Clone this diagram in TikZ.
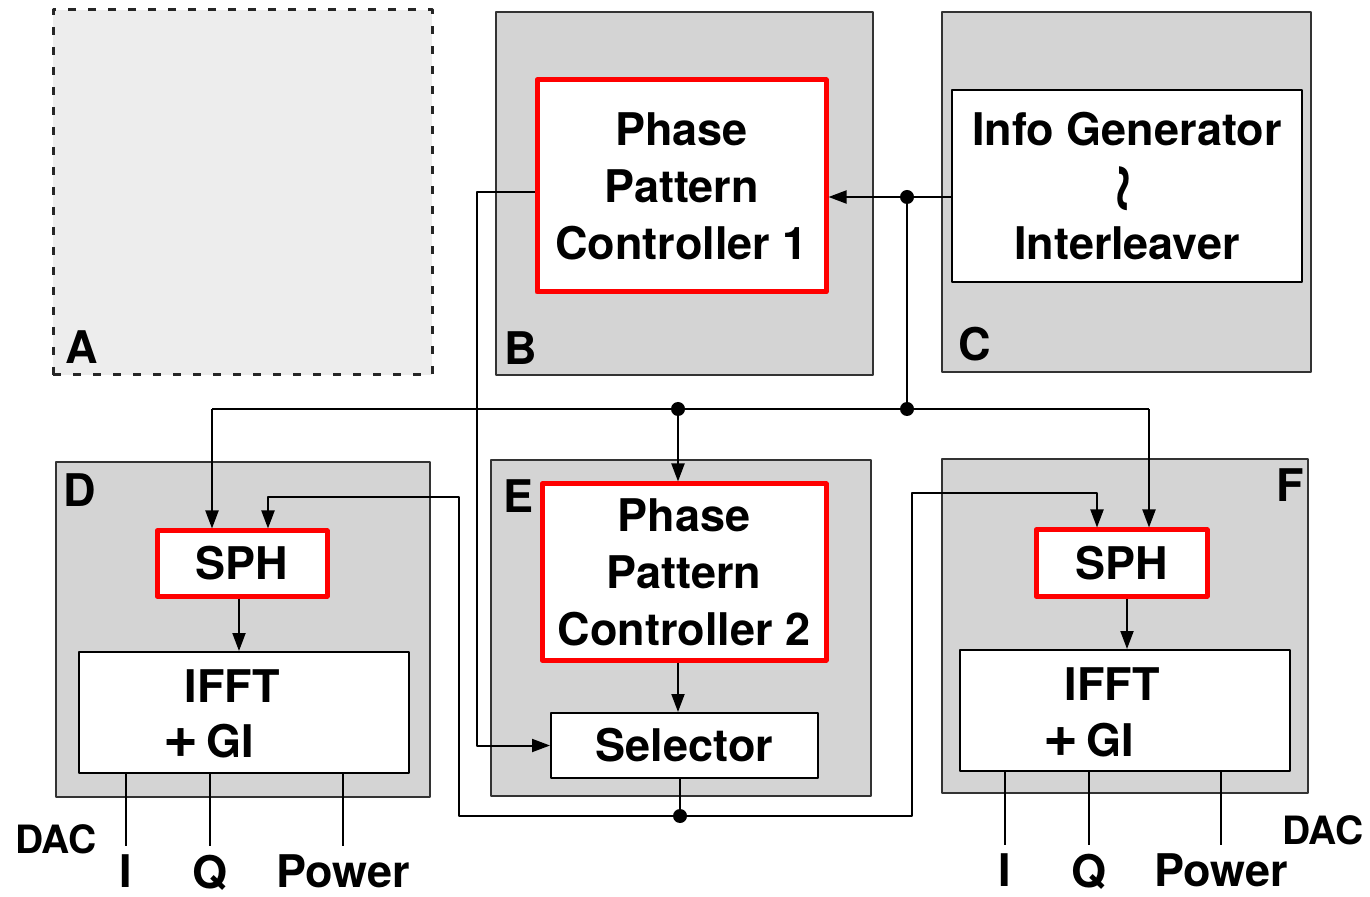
\documentclass[tikz,border=0pt]{standalone}
\usepackage{fontspec}
\setmainfont{TeX Gyre Heros}
\usetikzlibrary{arrows.meta,fit,positioning}
\begin{document}
\begin{tikzpicture}[x=0.5pt,y=-0.5pt,>={Triangle[length=9pt,width=6.5pt]},line join=round,
	font=\fontsize{22.5}{28.5}\selectfont\bfseries,
	grp/.style={draw=black!80,fill=black!17,line width=1pt,inner sep=0pt},
	redbox/.style={draw=red,fill=white,line width=2.5pt,inner sep=0pt,align=center},
	wbox/.style={draw=black,fill=white,line width=1pt,inner sep=0pt,align=center},
	lbl/.style={inner sep=0pt},
	dac/.style={inner sep=0pt,font=\fontsize{19.5}{24}\selectfont\bfseries},
	conn/.style={line width=1pt}]
	\useasboundingbox (0,0) rectangle (1370,897);
	% the six areas
	\node[fit={(53,10) (432,375)},inner sep=0pt,fill=black!7,draw=black!85,line width=1.5pt,dash pattern=on 4pt off 6pt] (grpA) {};
	\node[grp,fit={(496,12) (873,375)}] (grpB) {};
	\node[grp,fit={(942,12) (1311,372)}] (grpC) {};
	\node[grp,fit={(56,462) (430,797)}] (grpD) {};
	\node[grp,fit={(491,460) (871,796)}] (grpE) {};
	\node[grp,fit={(942,459) (1308,793)}] (grpF) {};
	\node[lbl] (tA) at (82,347) {A};
	\node[lbl] (tB) at (521,348) {B};
	\node[lbl] (tC) at (975,344) {C};
	\node[lbl] (tD) at (80,490) {D};
	\node[lbl] (tE) at (519,496) {E};
	\node[lbl] (tF) at (1290,485) {F};
	% blocks
	\node[redbox,minimum width=144.5pt,minimum height=106pt] (ppc1) at (681.5,186) {Phase\\Pattern\\Controller 1};
	\node[wbox,minimum width=175pt,minimum height=96pt] (info) at (1127,186) {Info Generator\\[28.5pt]Interleaver};
	\node[lbl] (wig) at (1128,188) {\rotatebox{90}{\fontsize{30}{30}\selectfont\scalebox{1.6}[1.1]{\textasciitilde}}};
	\node[redbox,minimum width=142pt,minimum height=88pt] (ppc2) at (684,572) {Phase\\Pattern\\Controller 2};
	\node[wbox,minimum width=133.5pt,minimum height=32.5pt] (sel) at (684.5,745.5) {Selector};
	\node[redbox,minimum width=85pt,minimum height=32.5pt] (sphD) at (242,563.5) {SPH};
	\node[redbox,minimum width=85.5pt,minimum height=33pt] (sphF) at (1121.5,563) {SPH};
	\node[wbox,minimum width=165pt,minimum height=60.5pt] (iffD) at (244,712.5) {};
	\node[wbox,minimum width=165pt,minimum height=60.5pt] (iffF) at (1125,710.5) {};
	\node[lbl] (ifftD) at (232,686) {IFFT};
	\node[lbl] (giD) at (209,741) {{\fontsize{30}{30}\selectfont+}\,GI};
	\node[lbl] (ifftF) at (1112,684) {IFFT};
	\node[lbl] (giF) at (1089,740) {{\fontsize{30}{30}\selectfont+}\,GI};
	% junctions
	\path (907,197) coordinate (j1) (907,409) coordinate (j2) (678,409) coordinate (j3) (680,816) coordinate (j4)
	(212,409) coordinate (busL) (1149,409) coordinate (busR) (477,192) coordinate (t1)
	(459,497) coordinate (retL) (268,497) coordinate (kD) (912,493) coordinate (retR) (1097,493) coordinate (kF);
	\draw[conn,->] (info.west |- j1) -- (ppc1.east |- j1);
	\draw[conn] (j1) -- (j2);
	\draw[conn] (busL) -- (busR);
	\draw[conn,->] (busL) -- (busL |- sphD.north);
	\draw[conn,->] (j3) -- (j3 |- ppc2.north);
	\draw[conn,->] (busR) -- (busR |- sphF.north);
	\draw[conn,->] (ppc1.west |- t1) -- (t1) |- (sel.west);
	\draw[conn,->] (j3 |- ppc2.south) -- (j3 |- sel.north);
	\draw[conn] (j4 |- sel.south) -- (j4);
	\draw[conn,->] (j4) -| (retL) -- (kD) -- (kD |- sphD.north);
	\draw[conn,->] (j4) -| (retR) -- (kF) -- (kF |- sphF.north);
	\draw[conn,->] (sphD.south -| 239,0) -- (iffD.north -| 239,0);
	\draw[conn,->] (sphF.south -| 1127,0) -- (iffF.north -| 1127,0);
	\foreach \p in {j1,j2,j3,j4} \fill[black] (\p) circle (3.5pt);
	% outputs to the DAC
	\foreach \x/\t [count=\i] in {126/I,210/Q,343/Power}
		\draw[conn] (iffD.south -| \x,0) -- (\x,846) node[below,inner sep=4pt] (oD\i) {\t};
	\foreach \x/\t [count=\i] in {1005/I,1089/Q,1221/Power}
		\draw[conn] (iffF.south -| \x,0) -- (\x,845) node[below,inner sep=4pt] (oF\i) {\t};
	\node[dac] (dacD) at (56,839) {DAC};
	\node[dac] (dacF) at (1323,830) {DAC};
\end{tikzpicture}
\end{document}
